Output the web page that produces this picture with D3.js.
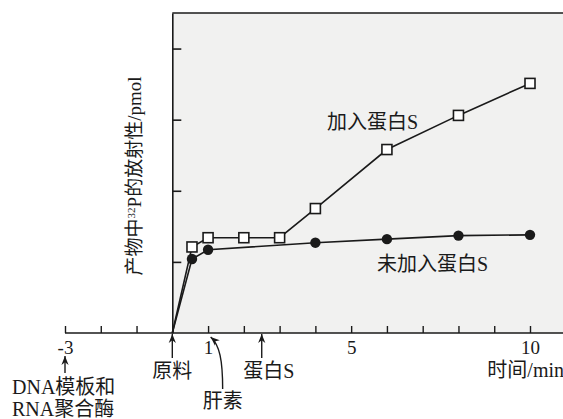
<!DOCTYPE html>
<html>
<head>
<meta charset="utf-8">
<script src="https://cdn.jsdelivr.net/npm/d3@7"></script>
<style>
body { margin: 0; background: #fff; }
text { font-family: "Liberation Serif", "Noto Sans CJK SC", serif; fill: #1a1a1a; }
</style>
</head>
<body>
<script>
// 加入蛋白S
var timeS = [0, 0.55, 1, 2, 3, 4, 6, 8, 10];
var valueS = [0, 1.21, 1.34, 1.34, 1.34, 1.75, 2.58, 3.06, 3.51];
// 未加入蛋白S
var timeNoS = [0, 0.55, 1, 4, 6, 8, 10];
var valueNoS = [0, 1.04, 1.17, 1.27, 1.32, 1.37, 1.38];
// x轴刻度
var xTicks = d3.range(-3, 11);
var xTickLabels = { "-3": "-3", "1": "1", "5": "5", "10": "10" };
var yTicks = [1, 2, 3, 4];
// 时间轴下方的标注
var notes = [
  { t: -3, lines: ["DNA模板和", "RNA聚合酶"] },
  { t: 0, lines: ["原料"] },
  { t: 2.5, lines: ["蛋白S"] },
  { t: 1.1, lines: ["肝素"] }
];

var width = 563, height = 419;
var svg = d3.select("body").append("svg")
  .attr("width", width).attr("height", height);

var defs = svg.append("defs");
defs.append("marker")
  .attr("id", "arr")
  .attr("viewBox", "0 0 10 10")
  .attr("refX", 10).attr("refY", 5)
  .attr("markerWidth", 9).attr("markerHeight", 9)
  .attr("markerUnits", "userSpaceOnUse")
  .attr("orient", "auto")
  .append("path").attr("d", "M0,1 L10,5 L0,9 L3,5 Z").attr("fill", "#1a1a1a");

var x = d3.scaleLinear().domain([-3, 10]).range([65, 530]);
var y = d3.scaleLinear().domain([0, 4.5]).range([333, 13]);

// 背景
svg.append("rect")
  .attr("x", x(0)).attr("y", y(4.5))
  .attr("width", width - x(0)).attr("height", y(0) - y(4.5))
  .attr("fill", "#f1f1f0");

// 上边框
svg.append("line")
  .attr("x1", x(0)).attr("x2", width)
  .attr("y1", y(4.5)).attr("y2", y(4.5))
  .attr("stroke", "#1a1a1a").attr("stroke-width", 1.6);

// y轴
var yAxis = svg.append("g")
  .attr("transform", "translate(" + x(0) + ",0)")
  .call(d3.axisLeft(y).tickValues(yTicks).tickSize(-9).tickSizeOuter(0).tickFormat(""));
yAxis.select(".domain").attr("stroke", "#1a1a1a").attr("stroke-width", 1.6);
yAxis.selectAll(".tick line").attr("stroke", "#1a1a1a").attr("stroke-width", 1.6);

// x轴
var xAxis = svg.append("g")
  .attr("transform", "translate(0," + y(0) + ")")
  .call(d3.axisBottom(x).tickValues(xTicks).tickSize(-7).tickSizeOuter(0)
    .tickFormat(function(d) { return xTickLabels[d] || ""; }));
xAxis.select(".domain").remove();
xAxis.append("line")
  .attr("x1", x(-3)).attr("x2", width)
  .attr("stroke", "#1a1a1a").attr("stroke-width", 1.6);
xAxis.selectAll(".tick line").attr("stroke", "#1a1a1a").attr("stroke-width", 1.4);
xAxis.selectAll(".tick text")
  .attr("y", 21)
  .attr("dy", 0)
  .style("font-size", "19px")
  .style("font-family", "Liberation Serif")
  .attr("fill", "#1a1a1a");

svg.append("text")
  .attr("x", width + 1).attr("y", 377)
  .attr("text-anchor", "end")
  .style("font-size", "20px")
  .text("时间/min");

// y轴标题
var yTitle = svg.append("text")
  .attr("transform", "translate(141,176) rotate(-90)")
  .attr("text-anchor", "middle")
  .style("font-size", "19px");
yTitle.append("tspan").text("产物中");
yTitle.append("tspan").attr("dy", -6).style("font-size", "11px").text("32");
yTitle.append("tspan").attr("dy", 6).text("P的放射性/pmol");

// 折线
var line = d3.line().x(function(d) { return x(d[0]); }).y(function(d) { return y(d[1]); });
var dataS = d3.zip(timeS, valueS);
var dataNoS = d3.zip(timeNoS, valueNoS);

svg.append("path").datum(dataNoS).attr("d", line)
  .attr("fill", "none").attr("stroke", "#1a1a1a").attr("stroke-width", 1.6);
svg.append("path").datum(dataS).attr("d", line)
  .attr("fill", "none").attr("stroke", "#1a1a1a").attr("stroke-width", 1.6);

svg.selectAll(".dot").data(dataNoS.slice(1)).enter().append("circle")
  .attr("cx", function(d) { return x(d[0]); })
  .attr("cy", function(d) { return y(d[1]); })
  .attr("r", 5.2)
  .attr("fill", "#1a1a1a");

var sq = 10;
svg.selectAll(".sq").data(dataS.slice(1)).enter().append("rect")
  .attr("x", function(d) { return x(d[0]) - sq / 2; })
  .attr("y", function(d) { return y(d[1]) - sq / 2; })
  .attr("width", sq).attr("height", sq)
  .attr("fill", "#fff").attr("stroke", "#1a1a1a").attr("stroke-width", 1.6);

// 系列标签
svg.append("text").attr("x", 327).attr("y", 129)
  .style("font-size", "20px").text("加入蛋白S");
svg.append("text").attr("x", 377).attr("y", 271)
  .style("font-size", "20px").text("未加入蛋白S");

// 下方标注
notes.forEach(function(n) {
  var cx = x(n.t);
  if (n.t === -3) {
    svg.append("line").attr("x1", cx).attr("x2", cx).attr("y1", 373).attr("y2", 356)
      .attr("stroke", "#1a1a1a").attr("stroke-width", 1.4).attr("marker-end", "url(#arr)");
    n.lines.forEach(function(s, i) {
      svg.append("text").attr("x", 12).attr("y", 394 + i * 22)
        .style("font-size", "20px").text(s);
    });
  } else if (n.t === 1.1) {
    svg.append("path")
      .attr("d", "M" + (cx + 11) + ",389 C" + (cx + 11) + ",360 " + (cx + 8) + ",345 " + (cx - 1) + ",337")
      .attr("fill", "none").attr("stroke", "#1a1a1a").attr("stroke-width", 1.4)
      .attr("marker-end", "url(#arr)");
    svg.append("text").attr("x", cx + 11).attr("y", 408).attr("text-anchor", "middle")
      .style("font-size", "20px").text(n.lines[0]);
  } else {
    svg.append("line").attr("x1", cx).attr("x2", cx).attr("y1", 358).attr("y2", y(0) + 1)
      .attr("stroke", "#1a1a1a").attr("stroke-width", 1.4).attr("marker-end", "url(#arr)");
    svg.append("text").attr("x", n.t === 0 ? cx : cx + 7).attr("y", 378).attr("text-anchor", "middle")
      .style("font-size", "20px").text(n.lines[0]);
  }
});
</script>
</body>
</html>
